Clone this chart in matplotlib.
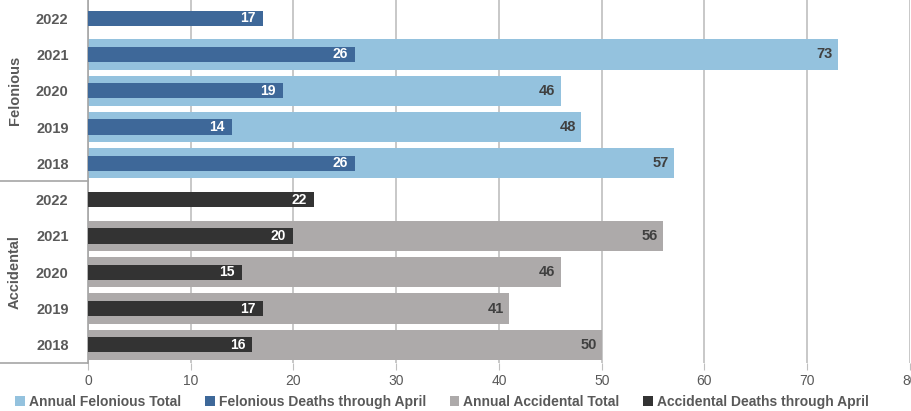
import numpy as np
import matplotlib.pyplot as plt

years = ['2022', '2021', '2020', '2019', '2018']
fel_total = [None, 73, 46, 48, 57]
fel_april = [17, 26, 19, 14, 26]
acc_total = [None, 56, 46, 41, 50]
acc_april = [22, 20, 15, 17, 16]

c_fel_total = '#94C2DE'
c_fel_april = '#3E6899'
c_acc_total = '#ADAAAA'
c_acc_april = '#333333'
txt = '#595959'

plt.rcParams['font.family'] = ['Liberation Sans', 'DejaVu Sans']

fig = plt.figure(figsize=(9.12, 4.11), dpi=100)
ax = fig.add_axes([88/912, 1 - 363/411, 822/912, 363/411])

rows_fel = np.arange(5)
rows_acc = np.arange(5, 10)

def draw(rows, totals, aprils, c_tot, c_apr, lab_tot, lab_apr):
    tv = [t if t is not None else 0 for t in totals]
    ax.barh(rows, tv, height=0.83, color=c_tot, label=lab_tot, zorder=2)
    ax.barh(rows, aprils, height=0.42, color=c_apr, label=lab_apr, zorder=3)
    for r, t in zip(rows, totals):
        if t is not None:
            ax.text(t - 0.5, r, str(t), ha='right', va='center', fontsize=10.5,
                    fontweight='bold', color='#404040', zorder=4)
    for r, a in zip(rows, aprils):
        ax.text(a - 0.7, r, str(a), ha='right', va='center', fontsize=10,
                fontweight='bold', color='white', zorder=4)

draw(rows_fel, fel_total, fel_april, c_fel_total, c_fel_april,
     'Annual Felonious Total', 'Felonious Deaths through April')
draw(rows_acc, acc_total, acc_april, c_acc_total, c_acc_april,
     'Annual Accidental Total', 'Accidental Deaths through April')

ax.set_xlim(0, 80)
ax.set_ylim(9.5, -0.5)
ax.set_xticks(range(0, 81, 10))
ax.set_yticks(range(10))
ax.set_yticklabels(years + years, fontweight='bold', fontsize=10.5, color=txt)
ax.tick_params(axis='y', length=0, pad=14)
ax.tick_params(axis='x', length=5, color='#BFBFBF', labelsize=10, labelcolor=txt, pad=3)
ax.grid(axis='x', color='#BFBFBF', linewidth=1.2, zorder=0)
for s in ['top', 'right', 'bottom']:
    ax.spines[s].set_visible(False)
ax.spines['left'].set_color('#A6A6A6')
ax.spines['left'].set_linewidth(1.2)

# group brackets on the left
tr = ax.get_yaxis_transform()
x0 = -88/822
for yb in [4.5, 9.5]:
    ax.plot([x0, 0], [yb, yb], color='#A6A6A6', lw=1.2, transform=tr, clip_on=False)
ax.text(-73/822, 2, 'Felonious', rotation=90, ha='center', va='center',
        fontsize=10.5, fontweight='bold', color=txt, transform=tr)
ax.text(-73/822, 7, 'Accidental', rotation=90, ha='center', va='center',
        fontsize=10.5, fontweight='bold', color=txt, transform=tr)

h, l = ax.get_legend_handles_labels()
leg = fig.legend(h, l, loc='lower left',
                 bbox_to_anchor=(0.003, -0.025), ncol=4, frameon=False, fontsize=10,
                 handlelength=0.7, handleheight=0.7, handletextpad=0.3, columnspacing=1.7)
for t in leg.get_texts():
    t.set_color(txt)
    t.set_fontweight('bold')

fig.savefig('out.png', dpi=100)
